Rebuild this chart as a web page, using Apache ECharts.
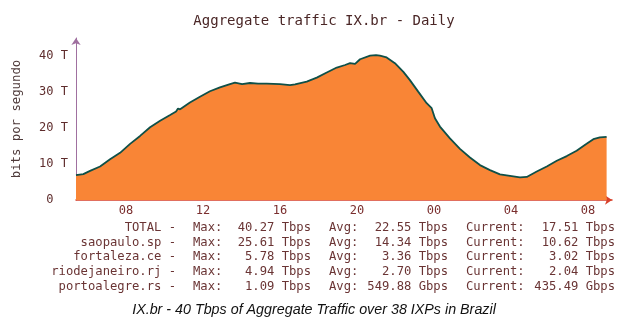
<!DOCTYPE html>
<html>
<head>
<meta charset="utf-8">
<script src="https://cdn.jsdelivr.net/npm/echarts@6/dist/echarts.min.js"></script>
<style>
  html, body { margin: 0; padding: 0; background: #ffffff; }
  #chart { width: 629px; height: 327px; }
</style>
</head>
<body>
<div id="chart"></div>
<script>
// Time of day in hours (values above 24 belong to the next day)
const hours = [
  5.40, 5.78, 6.13, 6.65, 7.17, 7.69, 8.21, 8.73, 9.25, 9.77,
  10.29, 10.60, 10.70, 10.81, 11.32, 11.84, 12.36, 12.88, 13.40, 13.66,
  14.03, 14.44, 14.86, 15.31, 16.00, 16.52, 16.78, 17.39, 17.91, 18.43,
  18.95, 19.38, 19.64, 19.90, 20.16, 20.68, 20.99, 21.19, 21.54, 21.97,
  22.41, 22.75, 23.18, 23.62, 23.88, 24.05, 24.31, 24.83, 25.35, 25.87,
  26.39, 26.91, 27.43, 27.95, 28.47, 28.82, 29.34, 29.86, 30.38, 30.90,
  31.41, 31.93, 32.28, 32.62, 32.97
];
// Aggregate traffic, Tbps
const totalTbps = [
  6.9, 7.2, 8.1, 9.3, 11.3, 13.1, 15.6, 17.8, 20.2, 22.0,
  23.6, 24.6, 25.4, 25.2, 27.1, 28.7, 30.2, 31.3, 32.2, 32.6,
  32.2, 32.5, 32.3, 32.3, 32.2, 31.9, 32.1, 32.9, 34.0, 35.4,
  36.8, 37.5, 38.0, 37.8, 39.1, 40.1, 40.27, 40.1, 39.6, 38.0,
  35.6, 33.3, 30.1, 26.9, 25.5, 22.7, 20.4, 17.1, 14.2, 11.8,
  9.7, 8.3, 7.1, 6.7, 6.3, 6.4, 7.9, 9.3, 10.9, 12.2,
  13.7, 15.6, 16.9, 17.4, 17.51
];

const hourTicks = [8, 12, 16, 20, 24, 28, 32];
const valueTicks = [0, 10, 20, 30, 40];

// Summary table
const ixpNames = ['TOTAL', 'saopaulo.sp', 'fortaleza.ce', 'riodejaneiro.rj', 'portoalegre.rs'];
const maxVals = ['40.27 Tbps', '25.61 Tbps', '5.78 Tbps', '4.94 Tbps', '1.09 Tbps'];
const avgVals = ['22.55 Tbps', '14.34 Tbps', '3.36 Tbps', '2.70 Tbps', '549.88 Gbps'];
const curVals = ['17.51 Tbps', '10.62 Tbps', '3.02 Tbps', '2.04 Tbps', '435.49 Gbps'];

const titleText = 'Aggregate traffic IX.br - Daily';
const captionText = 'IX.br - 40 Tbps of Aggregate Traffic over 38 IXPs in Brazil';

const mono = '"DejaVu Sans Mono", "Liberation Mono", monospace';
const textColor = '#6a3434';

const chart = echarts.init(document.getElementById('chart'), null, { renderer: 'canvas' });

// Build the table rows as text elements
const tableTop = 227.5;
const rowStep = 14.85;
const tableFont = '12.2px ' + mono;
const tableItems = [];
ixpNames.forEach((name, i) => {
  const y = tableTop + i * rowStep;
  const cols = [
    { x: 176, text: name + ' -', align: 'right' },
    { x: 193, text: 'Max:', align: 'left' },
    { x: 311, text: maxVals[i], align: 'right' },
    { x: 329, text: 'Avg:', align: 'left' },
    { x: 448, text: avgVals[i], align: 'right' },
    { x: 466, text: 'Current:', align: 'left' },
    { x: 615, text: curVals[i], align: 'right' }
  ];
  cols.forEach(c => {
    tableItems.push({
      type: 'text',
      x: c.x,
      y: y,
      style: {
        text: c.text,
        font: tableFont,
        fill: textColor,
        align: c.align,
        verticalAlign: 'middle'
      }
    });
  });
});

tableItems.push({
  type: 'text',
  x: 314,
  y: 310,
  style: {
    text: captionText,
    font: 'italic 14.3px "Liberation Sans", Arial, sans-serif',
    fill: '#111111',
    align: 'center',
    verticalAlign: 'middle'
  }
});

const pad2 = h => {
  const v = Math.round(h) % 24;
  return (v < 10 ? '0' : '') + v;
};

chart.setOption({
  animation: false,
  backgroundColor: '#ffffff',
  title: {
    text: titleText,
    left: 319,
    top: 9,
    textAlign: 'center',
    textStyle: {
      fontFamily: mono,
      fontSize: 14,
      fontWeight: 'normal',
      color: '#4a2626'
    }
  },
  grid: { left: 76, right: 17, top: 38, bottom: 127 },
  xAxis: {
    type: 'value',
    min: 5.40,
    max: 33.25,
    axisLine: {
      show: true,
      onZero: false,
      symbol: ['none', 'arrow'],
      symbolSize: [7, 7],
      lineStyle: { color: '#d8402a', width: 1.5 }
    },
    axisTick: { show: false },
    splitLine: { show: false },
    axisLabel: {
      customValues: hourTicks,
      formatter: v => pad2(v),
      fontFamily: mono,
      fontSize: 12,
      color: '#7a2e2e',
      margin: 5
    }
  },
  yAxis: {
    type: 'value',
    min: 0,
    max: 45,
    name: 'bits por segundo',
    nameLocation: 'middle',
    nameRotate: 90,
    nameGap: 53,
    nameTextStyle: {
      fontFamily: mono,
      fontSize: 12.3,
      color: '#4e3a3a'
    },
    axisLine: {
      show: true,
      symbol: ['none', 'arrow'],
      symbolSize: [7, 7],
      lineStyle: { color: '#a070a0', width: 1 }
    },
    axisTick: { show: false },
    splitLine: { show: false },
    axisLabel: {
      customValues: valueTicks,
      formatter: v => (v === 0 ? '0  ' : v + ' T'),
      fontFamily: mono,
      fontSize: 12,
      color: '#5e2c2c',
      margin: 8
    }
  },
  series: [{
    type: 'line',
    data: hours.map((h, i) => [h, totalTbps[i]]),
    showSymbol: false,
    smooth: false,
    lineStyle: { color: '#0f5048', width: 1.8 },
    areaStyle: { color: '#f98536', opacity: 1 },
    z: 2
  }],
  graphic: tableItems
});
</script>
</body>
</html>
